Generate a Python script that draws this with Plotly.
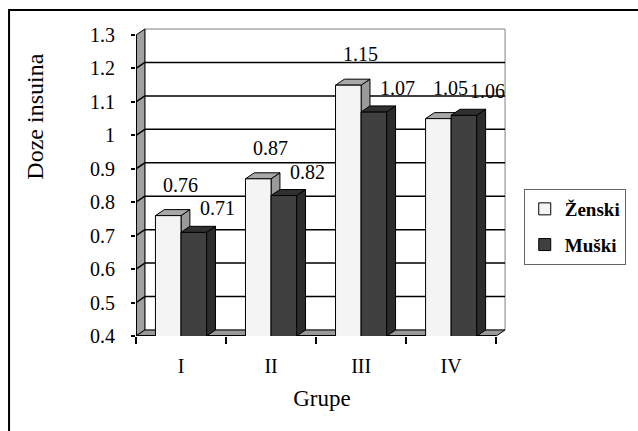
import plotly.graph_objects as go

# ---------------- data ----------------
categories = ["I", "II", "III", "IV"]
series_names = ["Ženski", "Muški"]
zenski = [0.76, 0.87, 1.15, 1.05]
muski = [0.71, 0.82, 1.07, 1.06]
y_tick_values = [0.4, 0.5, 0.6, 0.7, 0.8, 0.9, 1.0, 1.1, 1.2, 1.3]
y_tick_labels = ["0.4", "0.5", "0.6", "0.7", "0.8", "0.9", "1", "1.1", "1.2", "1.3"]
x_title = "Grupe"
y_title = "Doze insuina"

# ---------------- layout constants (pixels) ----------------
W, H = 638, 431
FRONT_LEFT_PX, FRONT_BOTTOM_PX = 136, 336
CAT_PX = 91.5                 # pixels per category
Y_PX = 301 / 0.9              # pixels per value unit
DEPTH_X_PX, DEPTH_Y_PX = 9, 6  # 3-D depth offset
PAD_R_PX, PAD_T_PX = 3, 3
BAR_PX = 26

FONT = "Liberation Serif, Times New Roman, serif"

ux, uy = 1 / CAT_PX, 1 / Y_PX
n = len(categories)
xs = list(range(n))
y_min, y_max = y_tick_values[0], y_tick_values[-1]
x_lo, x_hi = -0.5, n - 0.5
DX, DY = DEPTH_X_PX * ux, DEPTH_Y_PX * uy
x_range = [x_lo, x_hi + DX + PAD_R_PX * ux]
y_range = [y_min, y_max + DY + PAD_T_PX * uy]
plot_w = (x_range[1] - x_range[0]) * CAT_PX
plot_h = (y_range[1] - y_range[0]) * Y_PX
m_l = FRONT_LEFT_PX
m_b = H - FRONT_BOTTOM_PX
m_r = W - m_l - plot_w
m_t = H - m_b - plot_h

bw = BAR_PX * ux  # bar width in category units


def px_to_paper_x(px):
    return (px - m_l) / plot_w


def px_to_paper_y(py):
    return (H - m_b - py) / plot_h


def path(pts):
    return "M " + " L ".join(f"{x:.5f},{y:.5f}" for x, y in pts) + " Z"


shapes = []


def poly(pts, fill, line="black", lw=1, layer="below"):
    shapes.append(dict(type="path", path=path(pts), xref="x", yref="y",
                       fillcolor=fill, line=dict(color=line, width=lw), layer=layer))


# back wall
poly([(x_lo + DX, y_min + DY), (x_hi + DX, y_min + DY), (x_hi + DX, y_max + DY),
      (x_lo + DX, y_max + DY)], "white", line="#808080", lw=1)
# gridlines on back wall (with diagonal over the side wall)
for v in y_tick_values[1:-1]:
    shapes.append(dict(type="path", xref="x", yref="y", layer="below",
                       path=f"M {x_lo},{v} L {x_lo + DX},{v + DY} L {x_hi + DX},{v + DY}",
                       line=dict(color="black", width=1.5)))
# left wall
poly([(x_lo, y_min), (x_lo + DX, y_min + DY), (x_lo + DX, y_max + DY), (x_lo, y_max)],
     "#a0a0a0", lw=1)
# gridline strokes over left wall
for v in y_tick_values[1:-1]:
    shapes.append(dict(type="line", xref="x", yref="y", layer="below",
                       x0=x_lo, y0=v, x1=x_lo + DX, y1=v + DY,
                       line=dict(color="black", width=1.5)))
# floor
poly([(x_lo, y_min), (x_hi, y_min), (x_hi + DX, y_min + DY), (x_lo + DX, y_min + DY)],
     "#999999", lw=1)
# front axis edges
shapes.append(dict(type="line", xref="x", yref="y", layer="below",
                   x0=x_lo, y0=y_min, x1=x_lo, y1=y_max, line=dict(color="black", width=2)))
shapes.append(dict(type="line", xref="x", yref="y", layer="below",
                   x0=x_lo, y0=y_min, x1=x_hi, y1=y_min, line=dict(color="black", width=2)))

front_colors = ["#f4f4f4", "#404040"]
top_colors = ["#a8a8a8", "#303030"]
side_colors = ["#9a9a9a", "#2c2c2c"]
layers = ["below", "above"]
series_values = [zenski, muski]

for k, vals in enumerate(series_values):
    for i, v in enumerate(vals):
        c = xs[i] + (k - 0.5) * bw
        x0, x1 = c - bw / 2, c + bw / 2
        # right side face
        poly([(x1, y_min), (x1 + DX, y_min + DY), (x1 + DX, v + DY), (x1, v)],
             side_colors[k], lw=1, layer=layers[k])
        # top face
        poly([(x0, v), (x1, v), (x1 + DX, v + DY), (x0 + DX, v + DY)],
             top_colors[k], lw=1, layer=layers[k])

fig = go.Figure()
for k, vals in enumerate(series_values):
    fig.add_trace(go.Bar(
        x=xs, y=vals, name=series_names[k], legendgroup=series_names[k],
        marker=dict(color=front_colors[k], line=dict(color="black", width=1)),
        hoverinfo="x+y",
    ))

# data labels
label_shift = [(12, 31), (24, 24)]
annotations = []
for k, vals in enumerate(series_values):
    for i, v in enumerate(vals):
        c = xs[i] + (k - 0.5) * bw
        annotations.append(dict(
            x=c, y=v, xref="x", yref="y", text=f"{v:g}", showarrow=False,
            xshift=label_shift[k][0], yshift=label_shift[k][1],
            xanchor="center", yanchor="middle",
            font=dict(family=FONT, size=20, color="black")))

# y axis title
annotations.append(dict(
    x=px_to_paper_x(33), y=px_to_paper_y(117), xref="paper", yref="paper",
    text=y_title, textangle=-90, showarrow=False, xanchor="center", yanchor="middle",
    font=dict(family=FONT, size=24, color="black")))

# outer frame
shapes.append(dict(type="rect", xref="paper", yref="paper",
                   x0=px_to_paper_x(7), y0=px_to_paper_y(700),
                   x1=px_to_paper_x(900), y1=px_to_paper_y(10),
                   line=dict(color="black", width=2), fillcolor="rgba(0,0,0,0)",
                   layer="above"))

fig.update_layout(
    width=W, height=H,
    margin=dict(l=m_l, r=m_r, t=m_t, b=m_b, pad=0),
    paper_bgcolor="white", plot_bgcolor="white",
    barmode="group", bargap=1 - 2 * bw, bargroupgap=0,
    shapes=shapes, annotations=annotations,
    font=dict(family=FONT, color="black"),
    legend=dict(
        x=px_to_paper_x(530), y=px_to_paper_y(189), xanchor="left", yanchor="top",
        bordercolor="#666666", borderwidth=1, bgcolor="white",
        font=dict(family=FONT, size=19, color="black", weight="bold"),
        traceorder="grouped", tracegroupgap=8, itemwidth=30,
    ),
    xaxis=dict(
        range=x_range, showgrid=False, zeroline=False, showline=False,
        tickvals=xs, ticktext=categories, ticks="", ticklabelstandoff=16,
        tickfont=dict(family=FONT, size=20, color="black"),
        minor=dict(tickvals=[x - 0.5 for x in xs] + [x_hi], ticks="outside",
                   ticklen=7, tickcolor="black", tickwidth=1.5, showgrid=False),
        title=dict(text=x_title, font=dict(family=FONT, size=23, color="black"),
                   standoff=13),
        fixedrange=True,
    ),
    yaxis=dict(
        range=y_range, showgrid=False, zeroline=False, showline=False,
        tickvals=y_tick_values, ticktext=y_tick_labels,
        ticks="outside", ticklen=4, tickcolor="black", tickwidth=1.5,
        ticklabelstandoff=12,
        tickfont=dict(family=FONT, size=20, color="black"),
        fixedrange=True,
    ),
    showlegend=True,
)

fig.write_html("out.html", post_script="document.body.style.margin='0';",
               config={"displayModeBar": False})
